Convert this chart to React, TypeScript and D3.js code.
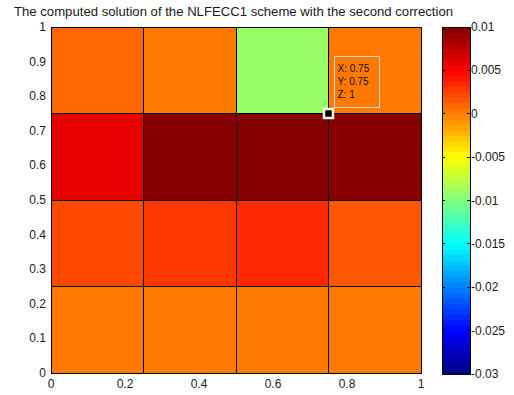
import React from "react";
import * as d3 from "d3";

const title = "The computed solution of the NLFECC1 scheme with the second correction";
const xEdges = [0, 0.25, 0.5, 0.75, 1];
const yEdges = [0, 0.25, 0.5, 0.75, 1];
// rows ordered by y ascending (bottom row first)
const zRow0 = [0.0003, 0.0003, 0.0003, 0.0003];
const zRow1 = [0.0019, 0.0031, 0.0036, 0.0017];
const zRow2 = [0.006, 0.0097, 0.0097, 0.0097];
const zRow3 = [0.001, 0.0, -0.009, 0.0006];
const zRows = [zRow0, zRow1, zRow2, zRow3];
const xTicks = [0, 0.2, 0.4, 0.6, 0.8, 1];
const yTicks = [0, 0.1, 0.2, 0.3, 0.4, 0.5, 0.6, 0.7, 0.8, 0.9, 1];
const cLim = [-0.03, 0.01];
const cTicks = [-0.03, -0.025, -0.02, -0.015, -0.01, -0.005, 0, 0.005, 0.01];
const tipPoint = { x: 0.75, y: 0.75 };
const tipLines = ["X: 0.75", "Y: 0.75", "Z: 1"];

const NLEV = 64;
const clamp = (v: number) => Math.max(0, Math.min(1, v));
function jet(t: number) {
  const r = clamp(1.5 - Math.abs(4 * t - 3));
  const g = clamp(1.5 - Math.abs(4 * t - 2));
  const b = clamp(1.5 - Math.abs(4 * t - 1));
  return d3.rgb(r * 255, g * 255, b * 255).formatHex();
}
function jetLevel(i: number) {
  return jet((i + 0.5) / NLEV);
}

export default function App() {
  const W = 514, H = 395;
  const left = 51, right = 421, top = 27, bottom = 373;
  const x = d3.scaleLinear().domain([0, 1]).range([left, right]);
  const y = d3.scaleLinear().domain([0, 1]).range([bottom, top]);
  const cbX0 = 442, cbX1 = 470;
  const cy = d3.scaleLinear().domain(cLim).range([374, 27]);
  const level = d3.scaleQuantize<number>().domain(cLim).range(d3.range(NLEV));
  const color = (v: number) => jetLevel(level(Math.max(cLim[0], Math.min(cLim[1] - 1e-9, v))));
  const font = "'Liberation Sans', Arial, sans-serif";
  const txt = "#1a1a1a";

  const cells: React.ReactNode[] = [];
  zRows.forEach((row, j) =>
    row.forEach((v, i) => {
      const x0 = x(xEdges[i]), x1 = x(xEdges[i + 1]);
      const y0 = y(yEdges[j + 1]), y1 = y(yEdges[j]);
      cells.push(
        <rect key={`c${i}-${j}`} x={x0} y={y0} width={x1 - x0} height={y1 - y0}
          fill={color(v)} stroke="#000" strokeWidth={1} shapeRendering="crispEdges" />
      );
    })
  );

  const cbRects = d3.range(NLEV).map((i) => {
    const v0 = cLim[0] + ((cLim[1] - cLim[0]) * i) / NLEV;
    const v1 = cLim[0] + ((cLim[1] - cLim[0]) * (i + 1)) / NLEV;
    return (
      <rect key={`cb${i}`} x={cbX0} y={cy(v1)} width={cbX1 - cbX0} height={cy(v0) - cy(v1) + 0.5}
        fill={jetLevel(i)} shapeRendering="crispEdges" />
    );
  });

  const px = x(tipPoint.x), py = y(tipPoint.y);

  return (
    <svg width={W} height={H} style={{ position: "absolute", left: 0, top: 0, background: "#fff" }}
      fontFamily={font}>
      <rect x={0} y={0} width={W} height={H} fill="#fff" />
      <text x={14} y={16} fontSize={12.5} fill={txt} textLength={439} lengthAdjust="spacingAndGlyphs">{title}</text>
      {cells}
      <line x1={left} x2={left} y1={top} y2={bottom} stroke="#000" shapeRendering="crispEdges" />
      <line x1={left} x2={right} y1={bottom} y2={bottom} stroke="#000" shapeRendering="crispEdges" />
      {yTicks.map((t) => (
        <text key={`yt${t}`} x={left - 5} y={y(t) + 4} textAnchor="end" fontSize={12} fill={txt}>{String(t)}</text>
      ))}
      {xTicks.map((t) => (
        <text key={`xt${t}`} x={x(t)} y={bottom + 15} textAnchor="middle" fontSize={12} fill={txt}>{String(t)}</text>
      ))}
      {cbRects}
      <rect x={cbX0} y={cy(cLim[1])} width={cbX1 - cbX0} height={cy(cLim[0]) - cy(cLim[1])}
        fill="none" stroke="#000" shapeRendering="crispEdges" />
      {cTicks.map((t) => (
        <g key={`ct${t}`}>
          <line x1={cbX0} x2={cbX0 + 3} y1={cy(t)} y2={cy(t)} stroke="#000" shapeRendering="crispEdges" />
          <line x1={cbX1 - 3} x2={cbX1} y1={cy(t)} y2={cy(t)} stroke="#000" shapeRendering="crispEdges" />
          <text x={cbX1 + 1} y={cy(t) + 4} fontSize={12} fill={txt}>{String(t)}</text>
        </g>
      ))}
      <rect x={px + 6} y={py - 57} width={45} height={51} fill="none" stroke="#d8d8d8" strokeWidth={1}
        shapeRendering="crispEdges" />
      {tipLines.map((s, i) => (
        <text key={`tip${i}`} x={px + 9} y={py - 42 + i * 13} fontSize={10} fill="#111">{s}</text>
      ))}
      <rect x={px - 4.5} y={py - 4.5} width={9} height={9} fill="#000" stroke="#fffbe6" strokeWidth={2.5} />
    </svg>
  );
}
